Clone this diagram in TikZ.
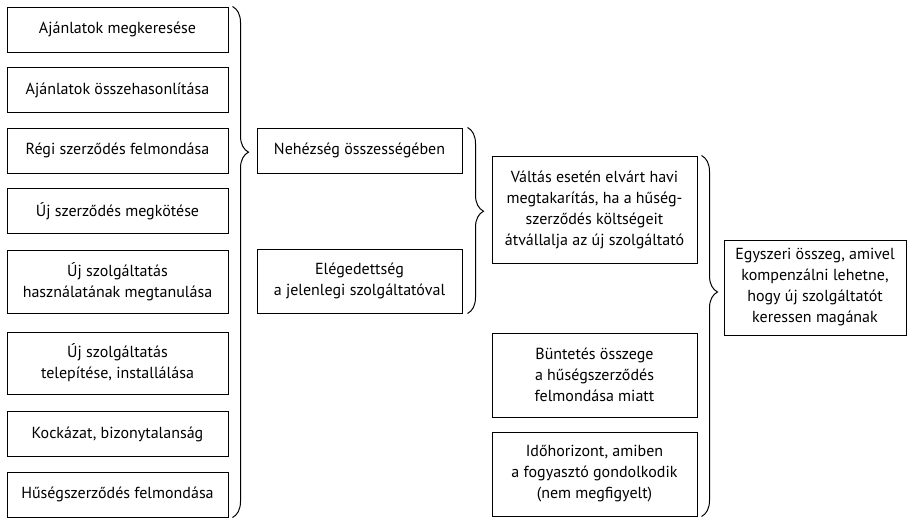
\documentclass[tikz,border=0pt]{standalone}
\usepackage{fontspec}
\setmainfont{PT Sans}
\usepackage{tikz}
\usetikzlibrary{decorations.pathreplacing,calc}

\begin{document}
\begin{tikzpicture}[x=1pt, y=-1pt,
    box/.style={rectangle, draw=black, line width=1pt, minimum width=221pt, minimum height=45pt, align=center, font=\fontsize{16}{21}\selectfont, inner sep=2pt},
    midbox/.style={box, minimum width=205pt},
    brace/.style={draw=black, line width=1pt, decorate, decoration={brace, amplitude=16pt}}]

\useasboundingbox (0,0) rectangle (907,517);

% Left column: the single steps of switching
\node[box] (find) at (117.5, 29.5) {Ajánlatok megkeresése};
\node[box] (compare) at (117.5, 90) {Ajánlatok összehasonlítása};
\node[box] (cancel) at (117.5, 150.5) {Régi szerződés felmondása};
\node[box] (sign) at (117.5, 211) {Új szerződés megkötése};
\node[box, minimum height=63pt] (learn) at (117.5, 281.5) {Új szolgáltatás\\használatának megtanulása};
\node[box, minimum height=62pt] (install) at (117.5, 363) {Új szolgáltatás\\telepítése, installálása};
\node[box] (risk) at (117.5, 434) {Kockázat, bizonytalanság};
\node[box] (loyal) at (117.5, 494.5) {Hűségszerződés felmondása};

% Middle column
\node[midbox] (hard) at (359.5, 150.5) {Nehézség összességében};
\node[midbox, minimum height=64pt] (satisf) at (359.5, 281) {Elégedettség\\a jelenlegi szolgáltatóval};

% Right column
\node[midbox, minimum height=107pt] (saving) at (594.5, 209.5) {Váltás esetén elvárt havi\\megtakarítás, ha a hűség-\\szerződés költségeit\\átvállalja az új szolgáltató};
\node[midbox, minimum height=84pt] (penalty) at (594.5, 375) {Büntetés összege\\a hűségszerződés\\felmondása miatt};
\node[midbox, minimum height=84pt] (horizon) at (594.5, 474) {Időhorizont, amiben\\a fogyasztó gondolkodik\\(nem megfigyelt)};

% Final outcome
\node[box, minimum width=182pt, minimum height=95pt] (lump) at (815, 287.5) {Egyszeri összeg, amivel\\kompenzálni lehetne,\\hogy új szolgáltatót\\keressen magának};

% Braces grouping the columns
\draw[brace, decoration={aspect=0.285}] ([xshift=4pt]find.north east) -- ([xshift=4pt]loyal.south east);
\draw[brace, decoration={aspect=0.45}] ([xshift=5pt]hard.north east) -- ([xshift=5pt]satisf.south east);
\draw[brace, decoration={aspect=0.378}] ([xshift=4pt]saving.north east) -- ([xshift=4pt]horizon.south east);

\end{tikzpicture}
\end{document}
